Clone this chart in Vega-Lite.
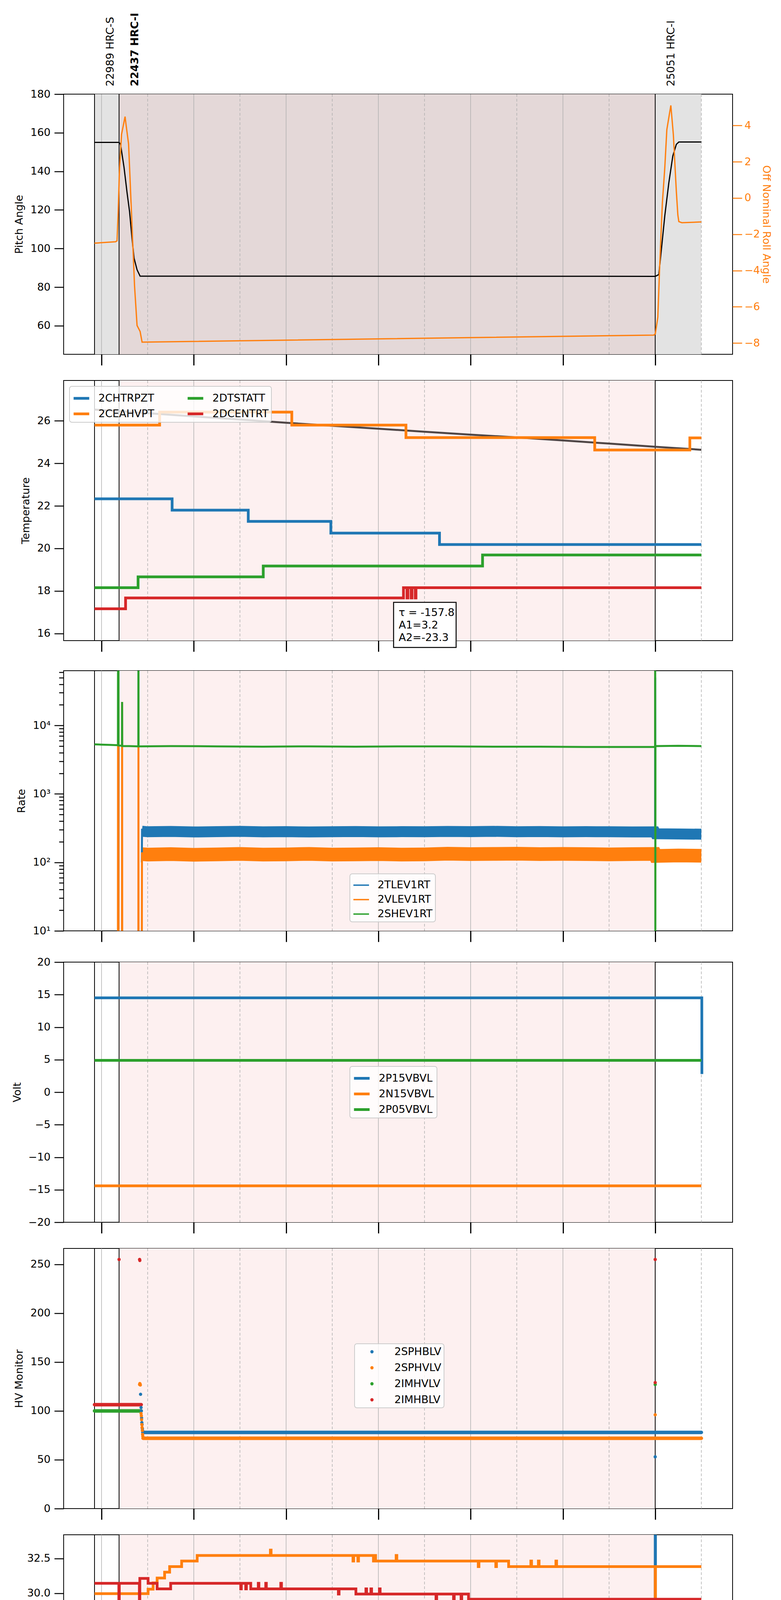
{
  "$schema": "https://vega.github.io/schema/vega-lite/v6.json",
  "background": "white",
  "padding": {"left": 25, "top": 31, "right": 0, "bottom": 0},
  "config": {
    "font": "DejaVu Sans",
    "view": {"stroke": "black", "strokeWidth": 2},
    "axis": {
      "domain": false, "grid": false,
      "labelFont": "DejaVu Sans", "labelFontSize": 27, "labelColor": "black",
      "titleFont": "DejaVu Sans", "titleFontSize": 27, "titleFontWeight": "normal", "titleColor": "black",
      "tickColor": "black", "tickWidth": 2.5, "tickSize": 24, "labelPadding": 10, "titlePadding": 14
    },
    "legend": {
      "orient": "none", "labelFont": "DejaVu Sans", "labelFontSize": 27, "labelColor": "black",
      "padding": 7, "fillColor": "rgba(255,255,255,0.8)", "strokeColor": "#cccccc", "strokeWidth": 2,
      "cornerRadius": 6, "rowPadding": 2, "labelOffset": 20, "symbolSize": 1600, "symbolStrokeWidth": 7
    }
  },
  "datasets": {
    "grid": [{"t":8},{"t":9},{"t":10},{"t":11},{"t":12},{"t":13},{"t":14},{"t":15},{"t":16},{"t":17},{"t":18},{"t":19},{"t":20},{"t":21}],
    "obs": [{"t":7.848},{"t":8.38},{"t":20.0}],
    "obsid": [{"t":7.848,"id":"22989 HRC-S","cur":false},{"t":8.38,"id":"22437 HRC-I","cur":true},{"t":20.0,"id":"25051 HRC-I","cur":false}],
    "shade": [{"t0":7.848,"t1":8.38,"k":"out"},{"t0":8.38,"t1":20.0,"k":"in"},{"t0":20.0,"t1":21.0,"k":"out"}],
    "pitch": [
      {"t":7.848,"v":155},{"t":8.38,"v":155},{"t":8.412,"v":154},{"t":8.488,"v":142},{"t":8.553,"v":129},{"t":8.608,"v":119},
      {"t":8.662,"v":105},{"t":8.705,"v":95},{"t":8.77,"v":89},{"t":8.836,"v":85.7},{"t":20.002,"v":85.6},{"t":20.078,"v":86.5},
      {"t":20.132,"v":99},{"t":20.208,"v":117},{"t":20.295,"v":134},{"t":20.382,"v":148},{"t":20.458,"v":154},{"t":20.512,"v":155.2},{"t":21.0,"v":155.2}
    ],
    "roll": [
      {"t":7.848,"v":-2.49},{"t":8.304,"v":-2.41},{"t":8.336,"v":-2.36},{"t":8.358,"v":-0.94},{"t":8.391,"v":1.68},{"t":8.434,"v":3.51},
      {"t":8.51,"v":4.49},{"t":8.532,"v":4.03},{"t":8.586,"v":2.99},{"t":8.608,"v":1.68},{"t":8.662,"v":-1.6},{"t":8.716,"v":-4.87},
      {"t":8.77,"v":-7.03},{"t":8.836,"v":-7.36},{"t":8.879,"v":-7.95},{"t":19.97,"v":-7.56},{"t":20.002,"v":-7.49},{"t":20.057,"v":-6.57},
      {"t":20.1,"v":-3.56},{"t":20.155,"v":-0.29},{"t":20.208,"v":1.68},{"t":20.252,"v":3.77},{"t":20.339,"v":5.11},{"t":20.393,"v":3.51},
      {"t":20.458,"v":0.37},{"t":20.491,"v":-0.94},{"t":20.512,"v":-1.3},{"t":20.577,"v":-1.36},{"t":21.0,"v":-1.32}
    ],
    "model": [
      {"t":7.848,"v":26.53},{"t":9,"v":26.36},{"t":10,"v":26.21},{"t":11,"v":26.06},{"t":12,"v":25.91},{"t":13,"v":25.77},{"t":14,"v":25.63},
      {"t":15,"v":25.49},{"t":16,"v":25.35},{"t":17,"v":25.22},{"t":18,"v":25.08},{"t":19,"v":24.93},{"t":20,"v":24.78},{"t":21,"v":24.64}
    ],
    "temp": [
      {"s":"2CHTRPZT","t":7.848,"v":22.33},{"s":"2CHTRPZT","t":9.53,"v":21.8},{"s":"2CHTRPZT","t":11.18,"v":21.27},{"s":"2CHTRPZT","t":12.97,"v":20.72},{"s":"2CHTRPZT","t":15.325,"v":20.18},{"s":"2CHTRPZT","t":21.0,"v":20.18},
      {"s":"2CEAHVPT","t":7.848,"v":25.8},{"s":"2CEAHVPT","t":9.259,"v":26.41},{"s":"2CEAHVPT","t":12.124,"v":25.8},{"s":"2CEAHVPT","t":14.598,"v":25.21},{"s":"2CEAHVPT","t":18.689,"v":24.63},{"s":"2CEAHVPT","t":20.751,"v":25.2},{"s":"2CEAHVPT","t":21.0,"v":25.2},
      {"s":"2DTSTATT","t":7.848,"v":18.15},{"s":"2DTSTATT","t":8.792,"v":18.66},{"s":"2DTSTATT","t":11.505,"v":19.17},{"s":"2DTSTATT","t":16.258,"v":19.69},{"s":"2DTSTATT","t":21.0,"v":19.69},
      {"s":"2DCENTRT","t":7.848,"v":17.16},{"s":"2DCENTRT","t":8.521,"v":17.67},{"s":"2DCENTRT","t":14.544,"v":18.15},{"s":"2DCENTRT","t":14.62,"v":17.67},{"s":"2DCENTRT","t":14.64,"v":18.15},{"s":"2DCENTRT","t":14.71,"v":17.67},{"s":"2DCENTRT","t":14.73,"v":18.15},{"s":"2DCENTRT","t":14.8,"v":17.67},{"s":"2DCENTRT","t":14.815,"v":18.15},{"s":"2DCENTRT","t":21.0,"v":18.15}
    ],
    "note": [{"t0":14.33,"t1":15.685,"v0":17.46,"v1":15.34,"tt":14.44,"vt":17.21,"label":"τ = -157.8\nA1=3.2\nA2=-23.3"}],
    "rateband": [
      {"s":"2TLEV1RT","t":8.876,"v":285},{"s":"2TLEV1RT","t":9.0,"v":280},{"s":"2TLEV1RT","t":9.5,"v":283},{"s":"2TLEV1RT","t":10.0,"v":278},{"s":"2TLEV1RT","t":10.5,"v":281},
      {"s":"2TLEV1RT","t":11.0,"v":284},{"s":"2TLEV1RT","t":11.5,"v":279},{"s":"2TLEV1RT","t":12.0,"v":281},{"s":"2TLEV1RT","t":12.5,"v":278},{"s":"2TLEV1RT","t":13.0,"v":280},
      {"s":"2TLEV1RT","t":13.5,"v":282},{"s":"2TLEV1RT","t":14.0,"v":279},{"s":"2TLEV1RT","t":14.5,"v":281},{"s":"2TLEV1RT","t":15.0,"v":280},{"s":"2TLEV1RT","t":15.5,"v":283},
      {"s":"2TLEV1RT","t":16.0,"v":281},{"s":"2TLEV1RT","t":16.5,"v":284},{"s":"2TLEV1RT","t":17.0,"v":280},{"s":"2TLEV1RT","t":17.5,"v":282},{"s":"2TLEV1RT","t":18.0,"v":279},
      {"s":"2TLEV1RT","t":18.5,"v":281},{"s":"2TLEV1RT","t":19.0,"v":280},{"s":"2TLEV1RT","t":19.5,"v":278},{"s":"2TLEV1RT","t":19.99,"v":279},{"s":"2TLEV1RT","t":20.01,"v":262},
      {"s":"2TLEV1RT","t":20.5,"v":260},{"s":"2TLEV1RT","t":21.0,"v":258},
      {"s":"2VLEV1RT","t":8.876,"v":132},{"s":"2VLEV1RT","t":9.0,"v":130},{"s":"2VLEV1RT","t":9.5,"v":132},{"s":"2VLEV1RT","t":10.0,"v":129},{"s":"2VLEV1RT","t":10.5,"v":131},
      {"s":"2VLEV1RT","t":11.0,"v":133},{"s":"2VLEV1RT","t":11.5,"v":130},{"s":"2VLEV1RT","t":12.0,"v":131},{"s":"2VLEV1RT","t":12.5,"v":133},{"s":"2VLEV1RT","t":13.0,"v":130},
      {"s":"2VLEV1RT","t":13.5,"v":131},{"s":"2VLEV1RT","t":14.0,"v":132},{"s":"2VLEV1RT","t":14.5,"v":130},{"s":"2VLEV1RT","t":15.0,"v":131},{"s":"2VLEV1RT","t":15.5,"v":134},
      {"s":"2VLEV1RT","t":16.0,"v":132},{"s":"2VLEV1RT","t":16.5,"v":133},{"s":"2VLEV1RT","t":17.0,"v":134},{"s":"2VLEV1RT","t":17.5,"v":132},{"s":"2VLEV1RT","t":18.0,"v":133},
      {"s":"2VLEV1RT","t":18.5,"v":132},{"s":"2VLEV1RT","t":19.0,"v":131},{"s":"2VLEV1RT","t":19.5,"v":132},{"s":"2VLEV1RT","t":19.99,"v":133},{"s":"2VLEV1RT","t":20.01,"v":124},
      {"s":"2VLEV1RT","t":20.5,"v":126},{"s":"2VLEV1RT","t":21.0,"v":125}
    ],
    "ratethin": [
      {"s":"2TLEV1RT","t":8.873,"v":100},{"s":"2TLEV1RT","t":8.878,"v":300},{"s":"2TLEV1RT","t":19.997,"v":290},{"s":"2TLEV1RT","t":20.0,"v":50000},{"s":"2TLEV1RT","t":20.003,"v":270},
      {"s":"2VLEV1RT","t":7.848,"v":1},{"s":"2VLEV1RT","t":8.354,"v":1},{"s":"2VLEV1RT","t":8.357,"v":5100},{"s":"2VLEV1RT","t":8.362,"v":1},{"s":"2VLEV1RT","t":8.364,"v":5100},
      {"s":"2VLEV1RT","t":8.368,"v":1},{"s":"2VLEV1RT","t":8.443,"v":1},{"s":"2VLEV1RT","t":8.446,"v":22000},{"s":"2VLEV1RT","t":8.449,"v":1},{"s":"2VLEV1RT","t":8.797,"v":1},
      {"s":"2VLEV1RT","t":8.8,"v":5000},{"s":"2VLEV1RT","t":8.803,"v":1},{"s":"2VLEV1RT","t":8.872,"v":1},{"s":"2VLEV1RT","t":8.877,"v":140},
      {"s":"2SHEV1RT","t":7.848,"v":5300},{"s":"2SHEV1RT","t":8.0,"v":5250},{"s":"2SHEV1RT","t":8.2,"v":5200},{"s":"2SHEV1RT","t":8.355,"v":5150},{"s":"2SHEV1RT","t":8.358,"v":1000000},
      {"s":"2SHEV1RT","t":8.366,"v":1000000},{"s":"2SHEV1RT","t":8.37,"v":5100},{"s":"2SHEV1RT","t":8.443,"v":5050},{"s":"2SHEV1RT","t":8.446,"v":22000},{"s":"2SHEV1RT","t":8.449,"v":5000},
      {"s":"2SHEV1RT","t":8.6,"v":5000},{"s":"2SHEV1RT","t":8.797,"v":4950},{"s":"2SHEV1RT","t":8.8,"v":1000000},{"s":"2SHEV1RT","t":8.803,"v":4950},{"s":"2SHEV1RT","t":9.5,"v":5000},
      {"s":"2SHEV1RT","t":10.5,"v":4950},{"s":"2SHEV1RT","t":11.5,"v":4900},{"s":"2SHEV1RT","t":12.5,"v":4950},{"s":"2SHEV1RT","t":13.5,"v":4900},{"s":"2SHEV1RT","t":14.5,"v":4950},
      {"s":"2SHEV1RT","t":15.5,"v":4950},{"s":"2SHEV1RT","t":16.5,"v":4900},{"s":"2SHEV1RT","t":17.5,"v":4900},{"s":"2SHEV1RT","t":18.5,"v":4850},{"s":"2SHEV1RT","t":19.5,"v":4850},
      {"s":"2SHEV1RT","t":19.997,"v":4850},{"s":"2SHEV1RT","t":20.0,"v":1000000},{"s":"2SHEV1RT","t":20.003,"v":1},{"s":"2SHEV1RT","t":20.006,"v":5000},{"s":"2SHEV1RT","t":20.5,"v":5050},
      {"s":"2SHEV1RT","t":21.0,"v":5000}
    ],
    "volt": [
      {"s":"2P15VBVL","t":7.848,"v":14.5},{"s":"2P15VBVL","t":21.01,"v":14.5},{"s":"2P15VBVL","t":21.012,"v":2.8},
      {"s":"2N15VBVL","t":7.848,"v":-14.4},{"s":"2N15VBVL","t":21.0,"v":-14.4},
      {"s":"2P05VBVL","t":7.848,"v":4.9},{"s":"2P05VBVL","t":21.0,"v":4.9}
    ],
    "hvpts": [
      {"s":"2SPHBLV","t":8.846,"v":117},{"s":"2SPHBLV","t":8.857,"v":103.4},{"s":"2SPHBLV","t":8.862,"v":100},{"s":"2SPHBLV","t":8.868,"v":92.8},{"s":"2SPHBLV","t":8.874,"v":88},
      {"s":"2SPHBLV","t":8.879,"v":86},{"s":"2SPHBLV","t":8.885,"v":82},{"s":"2SPHBLV","t":8.89,"v":80},{"s":"2SPHBLV","t":20.0,"v":53},
      {"s":"2SPHVLV","t":8.825,"v":127},{"s":"2SPHVLV","t":8.83,"v":128},{"s":"2SPHVLV","t":8.835,"v":127.5},{"s":"2SPHVLV","t":8.841,"v":126.5},{"s":"2SPHVLV","t":8.857,"v":97.3},
      {"s":"2SPHVLV","t":8.863,"v":95},{"s":"2SPHVLV","t":8.868,"v":91},{"s":"2SPHVLV","t":8.874,"v":86},{"s":"2SPHVLV","t":8.879,"v":83},{"s":"2SPHVLV","t":8.885,"v":80},
      {"s":"2SPHVLV","t":8.89,"v":76},{"s":"2SPHVLV","t":8.895,"v":74},{"s":"2SPHVLV","t":20.0,"v":96},
      {"s":"2IMHVLV","t":20.0,"v":127},
      {"s":"2IMHBLV","t":8.38,"v":255},{"s":"2IMHBLV","t":8.825,"v":255},{"s":"2IMHBLV","t":8.83,"v":254},{"s":"2IMHBLV","t":20.0,"v":255},{"s":"2IMHBLV","t":20.0,"v":129}
    ],
    "hvline": [
      {"s":"2SPHBLV","t":8.895,"v":78},{"s":"2SPHBLV","t":21.0,"v":78},
      {"s":"2SPHVLV","t":8.9,"v":72},{"s":"2SPHVLV","t":21.0,"v":72},
      {"s":"2IMHVLV","t":7.848,"v":100},{"s":"2IMHVLV","t":8.86,"v":100},
      {"s":"2IMHBLV","t":7.848,"v":106.4},{"s":"2IMHBLV","t":8.86,"v":106.4}
    ],
    "dtemp": [
      {"s":"2SPINATM","t":7.848,"v":16.35},{"s":"2SPINATM","t":9.226,"v":16.99},{"s":"2SPINATM","t":9.25,"v":16.35},{"s":"2SPINATM","t":9.27,"v":16.99},{"s":"2SPINATM","t":9.33,"v":16.35},
      {"s":"2SPINATM","t":9.35,"v":16.99},{"s":"2SPINATM","t":12.265,"v":17.63},{"s":"2SPINATM","t":19.29,"v":18.27},{"s":"2SPINATM","t":19.31,"v":17.63},{"s":"2SPINATM","t":19.53,"v":18.27},
      {"s":"2SPINATM","t":19.55,"v":17.63},{"s":"2SPINATM","t":19.59,"v":18.27},{"s":"2SPINATM","t":19.62,"v":17.63},{"s":"2SPINATM","t":19.65,"v":18.27},{"s":"2SPINATM","t":19.7,"v":17.63},
      {"s":"2SPINATM","t":19.72,"v":18.27},{"s":"2SPINATM","t":19.78,"v":17.63},{"s":"2SPINATM","t":19.8,"v":18.27},{"s":"2SPINATM","t":19.84,"v":17.63},{"s":"2SPINATM","t":19.86,"v":18.27},
      {"s":"2SPINATM","t":20.0,"v":40},{"s":"2SPINATM","t":20.006,"v":18.27},{"s":"2SPINATM","t":21.0,"v":18.27},
      {"s":"2SPHVATM","t":7.848,"v":29.97},{"s":"2SPHVATM","t":9.009,"v":30.29},{"s":"2SPHVATM","t":9.118,"v":30.74},{"s":"2SPHVATM","t":9.205,"v":31.09},{"s":"2SPHVATM","t":9.367,"v":31.51},
      {"s":"2SPHVATM","t":9.476,"v":31.91},{"s":"2SPHVATM","t":9.736,"v":32.31},{"s":"2SPHVATM","t":10.073,"v":32.71},{"s":"2SPHVATM","t":11.66,"v":33.1},{"s":"2SPHVATM","t":11.675,"v":32.71},
      {"s":"2SPHVATM","t":13.45,"v":32.31},{"s":"2SPHVATM","t":13.465,"v":32.71},{"s":"2SPHVATM","t":13.555,"v":32.31},{"s":"2SPHVATM","t":13.57,"v":32.71},{"s":"2SPHVATM","t":13.893,"v":32.31},
      {"s":"2SPHVATM","t":13.92,"v":32.71},{"s":"2SPHVATM","t":13.94,"v":32.31},{"s":"2SPHVATM","t":14.385,"v":32.71},{"s":"2SPHVATM","t":14.4,"v":32.31},{"s":"2SPHVATM","t":16.165,"v":31.91},
      {"s":"2SPHVATM","t":16.18,"v":32.31},{"s":"2SPHVATM","t":16.545,"v":31.91},{"s":"2SPHVATM","t":16.56,"v":32.31},{"s":"2SPHVATM","t":16.823,"v":31.91},{"s":"2SPHVATM","t":17.305,"v":32.31},
      {"s":"2SPHVATM","t":17.32,"v":31.91},{"s":"2SPHVATM","t":17.468,"v":32.31},{"s":"2SPHVATM","t":17.483,"v":31.91},{"s":"2SPHVATM","t":17.848,"v":32.31},{"s":"2SPHVATM","t":17.863,"v":31.91},
      {"s":"2SPHVATM","t":20.0,"v":15},{"s":"2SPHVATM","t":20.006,"v":31.91},{"s":"2SPHVATM","t":21.0,"v":31.91},
      {"s":"2IMINATM","t":7.848,"v":18.27},{"s":"2IMINATM","t":11.418,"v":18.93},{"s":"2IMINATM","t":11.44,"v":18.27},{"s":"2IMINATM","t":11.46,"v":18.93},{"s":"2IMINATM","t":11.91,"v":18.27},
      {"s":"2IMINATM","t":11.925,"v":18.93},{"s":"2IMINATM","t":18.12,"v":19.63},{"s":"2IMINATM","t":18.135,"v":18.93},{"s":"2IMINATM","t":18.971,"v":19.63},{"s":"2IMINATM","t":19.0,"v":18.93},
      {"s":"2IMINATM","t":19.03,"v":19.63},{"s":"2IMINATM","t":19.1,"v":18.93},{"s":"2IMINATM","t":19.12,"v":19.63},{"s":"2IMINATM","t":19.19,"v":18.93},{"s":"2IMINATM","t":19.21,"v":19.63},
      {"s":"2IMINATM","t":21.0,"v":19.63},
      {"s":"2IMHVATM","t":7.848,"v":30.71},{"s":"2IMHVATM","t":8.375,"v":10},{"s":"2IMHVATM","t":8.385,"v":30.71},{"s":"2IMHVATM","t":8.82,"v":10},{"s":"2IMHVATM","t":8.83,"v":31.06},
      {"s":"2IMHVATM","t":9.009,"v":30.71},{"s":"2IMHVATM","t":9.205,"v":30.31},{"s":"2IMHVATM","t":9.498,"v":30.71},{"s":"2IMHVATM","t":11.017,"v":30.31},{"s":"2IMHVATM","t":11.03,"v":30.71},
      {"s":"2IMHVATM","t":11.125,"v":30.31},{"s":"2IMHVATM","t":11.14,"v":30.71},{"s":"2IMHVATM","t":11.234,"v":30.31},{"s":"2IMHVATM","t":11.397,"v":30.71},{"s":"2IMHVATM","t":11.41,"v":30.31},
      {"s":"2IMHVATM","t":11.559,"v":30.71},{"s":"2IMHVATM","t":11.572,"v":30.31},{"s":"2IMHVATM","t":11.885,"v":30.71},{"s":"2IMHVATM","t":11.9,"v":30.31},{"s":"2IMHVATM","t":13.133,"v":29.94},
      {"s":"2IMHVATM","t":13.148,"v":30.31},{"s":"2IMHVATM","t":13.513,"v":29.94},{"s":"2IMHVATM","t":13.73,"v":30.31},{"s":"2IMHVATM","t":13.745,"v":29.94},{"s":"2IMHVATM","t":13.838,"v":30.31},
      {"s":"2IMHVATM","t":13.853,"v":29.94},{"s":"2IMHVATM","t":14.023,"v":30.31},{"s":"2IMHVATM","t":14.038,"v":29.94},{"s":"2IMHVATM","t":15.249,"v":29.57},{"s":"2IMHVATM","t":15.264,"v":29.94},
      {"s":"2IMHVATM","t":15.629,"v":29.57},{"s":"2IMHVATM","t":15.644,"v":29.94},{"s":"2IMHVATM","t":15.792,"v":29.57},{"s":"2IMHVATM","t":15.807,"v":29.94},{"s":"2IMHVATM","t":15.954,"v":29.57},
      {"s":"2IMHVATM","t":18.667,"v":29.2},{"s":"2IMHVATM","t":18.682,"v":29.57},{"s":"2IMHVATM","t":19.123,"v":29.2},{"s":"2IMHVATM","t":19.138,"v":29.57},{"s":"2IMHVATM","t":19.557,"v":29.2},
      {"s":"2IMHVATM","t":19.572,"v":29.57},{"s":"2IMHVATM","t":19.615,"v":29.2},{"s":"2IMHVATM","t":19.63,"v":29.57},{"s":"2IMHVATM","t":20.0,"v":10},{"s":"2IMHVATM","t":20.006,"v":29.57},
      {"s":"2IMHVATM","t":21.0,"v":29.57}
    ],
    "fea": [
      {"s":"2FHTRMZT","t":7.848,"v":21.27},{"s":"2FHTRMZT","t":9.063,"v":21.81},{"s":"2FHTRMZT","t":11.614,"v":22.36},{"s":"2FHTRMZT","t":15.976,"v":22.91},{"s":"2FHTRMZT","t":21.0,"v":22.91},
      {"s":"2FRADPYT","t":7.848,"v":17.16},{"s":"2FRADPYT","t":8.868,"v":17.66},{"s":"2FRADPYT","t":10.311,"v":18.16},{"s":"2FRADPYT","t":15.086,"v":18.65},{"s":"2FRADPYT","t":20.241,"v":18.16},{"s":"2FRADPYT","t":21.0,"v":18.16},
      {"s":"2FEPRATM","t":7.848,"v":23.14},{"s":"2FEPRATM","t":8.375,"v":21.6},{"s":"2FEPRATM","t":8.385,"v":23.14},{"s":"2FEPRATM","t":8.82,"v":21.7},{"s":"2FEPRATM","t":8.83,"v":23.14},
      {"s":"2FEPRATM","t":9.44,"v":23.87},{"s":"2FEPRATM","t":9.46,"v":23.14},{"s":"2FEPRATM","t":9.5,"v":23.87},{"s":"2FEPRATM","t":9.55,"v":23.14},{"s":"2FEPRATM","t":9.6,"v":23.87},
      {"s":"2FEPRATM","t":14.27,"v":24.62},{"s":"2FEPRATM","t":14.3,"v":23.87},{"s":"2FEPRATM","t":14.35,"v":24.62},{"s":"2FEPRATM","t":14.4,"v":23.87},{"s":"2FEPRATM","t":14.45,"v":24.62},
      {"s":"2FEPRATM","t":14.47,"v":23.87},{"s":"2FEPRATM","t":14.49,"v":24.62},{"s":"2FEPRATM","t":21.0,"v":24.62},
      {"s":"2FE00ATM","t":7.848,"v":21.4},{"s":"2FE00ATM","t":8.375,"v":10},{"s":"2FE00ATM","t":8.385,"v":21.4},{"s":"2FE00ATM","t":8.82,"v":10},{"s":"2FE00ATM","t":8.83,"v":21.72},
      {"s":"2FE00ATM","t":9.519,"v":22.05},{"s":"2FE00ATM","t":9.532,"v":21.72},{"s":"2FE00ATM","t":9.877,"v":22.04},{"s":"2FE00ATM","t":9.9,"v":21.72},{"s":"2FE00ATM","t":9.92,"v":22.04},
      {"s":"2FE00ATM","t":10.138,"v":22.66},{"s":"2FE00ATM","t":10.15,"v":22.04},{"s":"2FE00ATM","t":10.18,"v":22.66},{"s":"2FE00ATM","t":10.192,"v":22.04},{"s":"2FE00ATM","t":10.29,"v":23.33},
      {"s":"2FE00ATM","t":10.302,"v":22.04},{"s":"2FE00ATM","t":10.398,"v":22.36},{"s":"2FE00ATM","t":10.41,"v":22.04},{"s":"2FE00ATM","t":10.442,"v":21.72},{"s":"2FE00ATM","t":10.455,"v":22.04},
      {"s":"2FE00ATM","t":10.822,"v":22.66},{"s":"2FE00ATM","t":10.834,"v":22.04},{"s":"2FE00ATM","t":10.94,"v":22.66},{"s":"2FE00ATM","t":10.952,"v":22.04},{"s":"2FE00ATM","t":10.995,"v":23.33},
      {"s":"2FE00ATM","t":11.007,"v":22.04},{"s":"2FE00ATM","t":11.668,"v":21.72},{"s":"2FE00ATM","t":11.68,"v":22.04},{"s":"2FE00ATM","t":11.831,"v":22.32},{"s":"2FE00ATM","t":11.86,"v":22.04},
      {"s":"2FE00ATM","t":11.88,"v":22.32},{"s":"2FE00ATM","t":12.134,"v":23.0},{"s":"2FE00ATM","t":12.146,"v":22.32},{"s":"2FE00ATM","t":12.243,"v":21.6},{"s":"2FE00ATM","t":12.255,"v":22.32},
      {"s":"2FE00ATM","t":12.341,"v":23.0},{"s":"2FE00ATM","t":12.353,"v":22.32},{"s":"2FE00ATM","t":12.41,"v":21.9},{"s":"2FE00ATM","t":12.422,"v":22.32},{"s":"2FE00ATM","t":12.699,"v":22.66},
      {"s":"2FE00ATM","t":12.711,"v":22.32},{"s":"2FE00ATM","t":13.0,"v":21.9},{"s":"2FE00ATM","t":13.012,"v":22.32},{"s":"2FE00ATM","t":13.079,"v":23.0},{"s":"2FE00ATM","t":13.091,"v":22.32},
      {"s":"2FE00ATM","t":13.187,"v":21.6},{"s":"2FE00ATM","t":13.199,"v":22.32},{"s":"2FE00ATM","t":13.328,"v":21.35},{"s":"2FE00ATM","t":13.34,"v":22.32},{"s":"2FE00ATM","t":13.589,"v":22.66},
      {"s":"2FE00ATM","t":13.601,"v":22.32},{"s":"2FE00ATM","t":13.697,"v":21.9},{"s":"2FE00ATM","t":13.709,"v":22.32},{"s":"2FE00ATM","t":13.73,"v":21.6},{"s":"2FE00ATM","t":13.742,"v":22.32},
      {"s":"2FE00ATM","t":13.817,"v":23.0},{"s":"2FE00ATM","t":13.829,"v":22.32},{"s":"2FE00ATM","t":14.197,"v":21.9},{"s":"2FE00ATM","t":14.209,"v":22.32},{"s":"2FE00ATM","t":14.272,"v":23.0},
      {"s":"2FE00ATM","t":14.284,"v":22.32},{"s":"2FE00ATM","t":14.327,"v":21.35},{"s":"2FE00ATM","t":14.339,"v":22.32},{"s":"2FE00ATM","t":14.924,"v":21.6},{"s":"2FE00ATM","t":14.936,"v":22.32},
      {"s":"2FE00ATM","t":14.956,"v":22.66},{"s":"2FE00ATM","t":14.968,"v":22.32},{"s":"2FE00ATM","t":15.195,"v":22.0},{"s":"2FE00ATM","t":15.207,"v":22.32},{"s":"2FE00ATM","t":15.303,"v":22.66},
      {"s":"2FE00ATM","t":15.32,"v":22.32},{"s":"2FE00ATM","t":15.34,"v":22.66},{"s":"2FE00ATM","t":15.661,"v":22.0},{"s":"2FE00ATM","t":15.673,"v":22.66},{"s":"2FE00ATM","t":15.9,"v":23.6},
      {"s":"2FE00ATM","t":15.912,"v":22.66},{"s":"2FE00ATM","t":15.954,"v":23.6},{"s":"2FE00ATM","t":15.966,"v":22.66},{"s":"2FE00ATM","t":16.15,"v":22.3},{"s":"2FE00ATM","t":16.162,"v":22.66},
      {"s":"2FE00ATM","t":16.465,"v":23.6},{"s":"2FE00ATM","t":16.477,"v":22.66},{"s":"2FE00ATM","t":16.497,"v":22.0},{"s":"2FE00ATM","t":16.509,"v":22.66},{"s":"2FE00ATM","t":16.606,"v":22.98},
      {"s":"2FE00ATM","t":16.618,"v":22.66},{"s":"2FE00ATM","t":16.931,"v":22.3},{"s":"2FE00ATM","t":16.943,"v":22.66},{"s":"2FE00ATM","t":16.985,"v":23.6},{"s":"2FE00ATM","t":16.997,"v":22.66},
      {"s":"2FE00ATM","t":17.235,"v":23.6},{"s":"2FE00ATM","t":17.247,"v":22.66},{"s":"2FE00ATM","t":17.398,"v":22.0},{"s":"2FE00ATM","t":17.41,"v":22.66},{"s":"2FE00ATM","t":17.69,"v":22.3},
      {"s":"2FE00ATM","t":17.702,"v":22.66},{"s":"2FE00ATM","t":17.745,"v":23.6},{"s":"2FE00ATM","t":17.757,"v":22.66},{"s":"2FE00ATM","t":17.93,"v":22.3},{"s":"2FE00ATM","t":17.942,"v":22.66},
      {"s":"2FE00ATM","t":18.016,"v":23.3},{"s":"2FE00ATM","t":18.028,"v":22.66},{"s":"2FE00ATM","t":18.049,"v":23.6},{"s":"2FE00ATM","t":18.061,"v":22.66},{"s":"2FE00ATM","t":18.08,"v":22.0},
      {"s":"2FE00ATM","t":18.092,"v":22.66},{"s":"2FE00ATM","t":18.537,"v":22.98},{"s":"2FE00ATM","t":18.549,"v":22.66},{"s":"2FE00ATM","t":18.667,"v":22.98},{"s":"2FE00ATM","t":18.679,"v":22.66},
      {"s":"2FE00ATM","t":18.776,"v":22.98},{"s":"2FE00ATM","t":18.788,"v":22.66},{"s":"2FE00ATM","t":18.939,"v":22.98},{"s":"2FE00ATM","t":18.96,"v":22.66},{"s":"2FE00ATM","t":18.98,"v":22.98},
      {"s":"2FE00ATM","t":19.188,"v":23.33},{"s":"2FE00ATM","t":19.2,"v":22.98},{"s":"2FE00ATM","t":19.3,"v":22.66},{"s":"2FE00ATM","t":19.312,"v":22.98},{"s":"2FE00ATM","t":19.373,"v":21.4},
      {"s":"2FE00ATM","t":19.385,"v":22.98},{"s":"2FE00ATM","t":19.514,"v":22.66},{"s":"2FE00ATM","t":19.526,"v":22.98},{"s":"2FE00ATM","t":19.622,"v":21.7},{"s":"2FE00ATM","t":19.634,"v":22.98},
      {"s":"2FE00ATM","t":19.97,"v":22.66},{"s":"2FE00ATM","t":19.982,"v":22.98},{"s":"2FE00ATM","t":19.998,"v":30},{"s":"2FE00ATM","t":20.0,"v":10},{"s":"2FE00ATM","t":20.006,"v":22.98},
      {"s":"2FE00ATM","t":20.295,"v":22.62},{"s":"2FE00ATM","t":21.0,"v":22.62}
    ]
  },
  "vconcat": [
    {
      "width": 1713, "height": 666,
      "layer": [
        {
          "layer": [
            {"data": {"name": "shade"}, "transform": [{"filter": "datum.k == 'out'"}], "mark": {"type": "rect", "color": "#e3e3e3"},
             "encoding": {"x": {"field": "t0", "type": "quantitative", "scale": {"domain": [7.179, 21.677], "nice": false, "zero": false},
               "axis": {"values": [8,9,10,11,12,13,14,15,16,17,18,19,20,21], "labels": false, "title": null, "tickWidth": 3,
                        "tickSize": {"condition": {"test": "datum.value % 2 == 1", "value": 0}, "value": 28}}},
               "x2": {"field": "t1"}}},
            {"data": {"name": "shade"}, "transform": [{"filter": "datum.k == 'in'"}], "mark": {"type": "rect", "color": "#e4d8d8"},
             "encoding": {"x": {"field": "t0", "type": "quantitative"}, "x2": {"field": "t1"}}},
            {"data": {"name": "grid"}, "transform": [{"filter": "datum.t % 2 == 0"}], "mark": {"type": "rule", "color": "#b0b0b0", "strokeWidth": 1.5},
             "encoding": {"x": {"field": "t", "type": "quantitative"}}},
            {"data": {"name": "grid"}, "transform": [{"filter": "datum.t % 2 == 1"}], "mark": {"type": "rule", "color": "#b0b0b0", "strokeWidth": 1.5, "strokeDash": [7, 5]},
             "encoding": {"x": {"field": "t", "type": "quantitative"}}},
            {"data": {"name": "obs"}, "mark": {"type": "rule", "color": "black", "strokeWidth": 2},
             "encoding": {"x": {"field": "t", "type": "quantitative"}}},
            {"data": {"name": "pitch"}, "mark": {"type": "line", "color": "black", "strokeWidth": 3, "clip": true},
             "encoding": {"x": {"field": "t", "type": "quantitative"},
               "y": {"field": "v", "type": "quantitative", "scale": {"domain": [45.2, 180], "nice": false, "zero": false},
                     "axis": {"values": [60,80,100,120,140,160,180], "title": "Pitch Angle"}}}},
            {"data": {"name": "obsid"}, "transform": [{"filter": "!datum.cur"}],
             "mark": {"type": "text", "angle": 270, "align": "left", "baseline": "middle", "dx": 20, "dy": 41, "fontSize": 27},
             "encoding": {"x": {"field": "t", "type": "quantitative"}, "y": {"datum": 180, "type": "quantitative"}, "text": {"field": "id"}}},
            {"data": {"name": "obsid"}, "transform": [{"filter": "datum.cur"}],
             "mark": {"type": "text", "angle": 270, "align": "left", "baseline": "middle", "dx": 20, "dy": 41, "fontSize": 27, "fontWeight": "bold"},
             "encoding": {"x": {"field": "t", "type": "quantitative"}, "y": {"datum": 180, "type": "quantitative"}, "text": {"field": "id"}}}
          ]
        },
        {"data": {"name": "roll"}, "mark": {"type": "line", "color": "#ff7f0e", "strokeWidth": 3.3, "clip": true},
         "encoding": {"x": {"field": "t", "type": "quantitative"},
           "y": {"field": "v", "type": "quantitative", "scale": {"domain": [-8.62, 5.73], "nice": false, "zero": false},
                 "axis": {"orient": "right", "values": [-8,-6,-4,-2,0,2,4], "title": "Off Nominal Roll Angle", "labelPadding": 6, "titlePadding": 2,
                          "titleColor": "#ff7f0e", "labelColor": "#ff7f0e", "tickColor": "#ff7f0e"}}}}
      ],
      "resolve": {"scale": {"y": "independent"}}
    },
    {
      "width": 1713, "height": 666,
      "layer": [
        {"data": {"name": "shade"}, "transform": [{"filter": "datum.k == 'in'"}], "mark": {"type": "rect", "color": "#fdf0f0"},
         "encoding": {"x": {"field": "t0", "type": "quantitative", "scale": {"domain": [7.179, 21.677], "nice": false, "zero": false},
           "axis": {"values": [8,9,10,11,12,13,14,15,16,17,18,19,20,21], "labels": false, "title": null, "tickWidth": 3,
                    "tickSize": {"condition": {"test": "datum.value % 2 == 1", "value": 0}, "value": 28}}},
           "x2": {"field": "t1"}}},
        {"data": {"name": "grid"}, "transform": [{"filter": "datum.t % 2 == 0"}], "mark": {"type": "rule", "color": "#b0b0b0", "strokeWidth": 1.5},
         "encoding": {"x": {"field": "t", "type": "quantitative"}}},
        {"data": {"name": "grid"}, "transform": [{"filter": "datum.t % 2 == 1"}], "mark": {"type": "rule", "color": "#b0b0b0", "strokeWidth": 1.5, "strokeDash": [7, 5]},
         "encoding": {"x": {"field": "t", "type": "quantitative"}}},
        {"data": {"name": "obs"}, "mark": {"type": "rule", "color": "black", "strokeWidth": 2},
         "encoding": {"x": {"field": "t", "type": "quantitative"}}},
        {"data": {"name": "model"}, "mark": {"type": "line", "color": "#4f4646", "strokeWidth": 5, "clip": true},
         "encoding": {"x": {"field": "t", "type": "quantitative"},
           "y": {"field": "v", "type": "quantitative", "scale": {"domain": [15.66, 27.9], "nice": false, "zero": false}}}},
        {"data": {"name": "temp"}, "mark": {"type": "line", "interpolate": "step-after", "strokeWidth": 7, "clip": true},
         "encoding": {"x": {"field": "t", "type": "quantitative"},
           "y": {"field": "v", "type": "quantitative", "scale": {"domain": [15.66, 27.9], "nice": false, "zero": false},
                 "axis": {"values": [16,18,20,22,24,26], "title": "Temperature"}},
           "color": {"field": "s", "type": "nominal",
             "scale": {"domain": ["2CHTRPZT","2CEAHVPT","2DTSTATT","2DCENTRT"], "range": ["#1f77b4","#ff7f0e","#2ca02c","#d62728"]},
             "legend": {"title": null, "columns": 2, "columnPadding": 70, "legendX": 15, "legendY": 15}}}},
        {"data": {"name": "note"}, "mark": {"type": "rect", "fill": "white", "stroke": "black", "strokeWidth": 2.5},
         "encoding": {"x": {"field": "t0", "type": "quantitative"}, "x2": {"field": "t1"},
           "y": {"field": "v0", "type": "quantitative"}, "y2": {"field": "v1"}}},
        {"data": {"name": "note"}, "mark": {"type": "text", "align": "left", "baseline": "top", "fontSize": 27, "lineHeight": 32, "lineBreak": "\n"},
         "encoding": {"x": {"field": "tt", "type": "quantitative"}, "y": {"field": "vt", "type": "quantitative"}, "text": {"field": "label"}}}
      ]
    },
    {
      "width": 1713, "height": 666,
      "layer": [
        {"data": {"name": "shade"}, "transform": [{"filter": "datum.k == 'in'"}], "mark": {"type": "rect", "color": "#fdf0f0"},
         "encoding": {"x": {"field": "t0", "type": "quantitative", "scale": {"domain": [7.179, 21.677], "nice": false, "zero": false},
           "axis": {"values": [8,9,10,11,12,13,14,15,16,17,18,19,20,21], "labels": false, "title": null, "tickWidth": 3,
                    "tickSize": {"condition": {"test": "datum.value % 2 == 1", "value": 0}, "value": 28}}},
           "x2": {"field": "t1"}}},
        {"data": {"name": "grid"}, "transform": [{"filter": "datum.t % 2 == 0"}], "mark": {"type": "rule", "color": "#b0b0b0", "strokeWidth": 1.5},
         "encoding": {"x": {"field": "t", "type": "quantitative"}}},
        {"data": {"name": "grid"}, "transform": [{"filter": "datum.t % 2 == 1"}], "mark": {"type": "rule", "color": "#b0b0b0", "strokeWidth": 1.5, "strokeDash": [7, 5]},
         "encoding": {"x": {"field": "t", "type": "quantitative"}}},
        {"data": {"name": "obs"}, "mark": {"type": "rule", "color": "black", "strokeWidth": 2},
         "encoding": {"x": {"field": "t", "type": "quantitative"}}},
        {"data": {"name": "rateband"}, "mark": {"type": "line", "clip": true},
         "encoding": {"x": {"field": "t", "type": "quantitative"},
           "y": {"field": "v", "type": "quantitative", "scale": {"type": "log", "domain": [10, 63000], "nice": false}},
           "stroke": {"field": "s", "type": "nominal", "scale": {"domain": ["2TLEV1RT","2VLEV1RT"], "range": ["#1f77b4","#ff7f0e"]}, "legend": null},
           "strokeWidth": {"field": "s", "type": "nominal", "scale": {"domain": ["2TLEV1RT","2VLEV1RT"], "range": [28, 35]}, "legend": null}}},
        {"data": {"name": "ratethin"}, "mark": {"type": "line", "strokeWidth": 5, "clip": true},
         "encoding": {"x": {"field": "t", "type": "quantitative"},
           "y": {"field": "v", "type": "quantitative", "scale": {"type": "log", "domain": [10, 63000], "nice": false},
                 "axis": {"title": "Rate", "labelOverlap": false,
                          "values": [10,20,30,40,50,60,70,80,90,100,200,300,400,500,600,700,800,900,1000,2000,3000,4000,5000,6000,7000,8000,9000,10000,20000,30000,40000,50000,60000],
                          "labelExpr": "datum.value == 10 ? '10¹' : datum.value == 100 ? '10²' : datum.value == 1000 ? '10³' : datum.value == 10000 ? '10⁴' : ''",
                          "tickSize": {"condition": {"test": "datum.value == 10 || datum.value == 100 || datum.value == 1000 || datum.value == 10000", "value": 24}, "value": 12}}},
           "color": {"field": "s", "type": "nominal",
             "scale": {"domain": ["2TLEV1RT","2VLEV1RT","2SHEV1RT"], "range": ["#1f77b4","#ff7f0e","#2ca02c"]},
             "legend": {"title": null, "symbolStrokeWidth": 3.5, "legendX": 733, "legendY": 520}}}}
      ]
    },
    {
      "width": 1713, "height": 666,
      "layer": [
        {"data": {"name": "shade"}, "transform": [{"filter": "datum.k == 'in'"}], "mark": {"type": "rect", "color": "#fdf0f0"},
         "encoding": {"x": {"field": "t0", "type": "quantitative", "scale": {"domain": [7.179, 21.677], "nice": false, "zero": false},
           "axis": {"values": [8,9,10,11,12,13,14,15,16,17,18,19,20,21], "labels": false, "title": null, "tickWidth": 3,
                    "tickSize": {"condition": {"test": "datum.value % 2 == 1", "value": 0}, "value": 28}}},
           "x2": {"field": "t1"}}},
        {"data": {"name": "grid"}, "transform": [{"filter": "datum.t % 2 == 0"}], "mark": {"type": "rule", "color": "#b0b0b0", "strokeWidth": 1.5},
         "encoding": {"x": {"field": "t", "type": "quantitative"}}},
        {"data": {"name": "grid"}, "transform": [{"filter": "datum.t % 2 == 1"}], "mark": {"type": "rule", "color": "#b0b0b0", "strokeWidth": 1.5, "strokeDash": [7, 5]},
         "encoding": {"x": {"field": "t", "type": "quantitative"}}},
        {"data": {"name": "obs"}, "mark": {"type": "rule", "color": "black", "strokeWidth": 2},
         "encoding": {"x": {"field": "t", "type": "quantitative"}}},
        {"data": {"name": "volt"}, "mark": {"type": "line", "strokeWidth": 7, "clip": true},
         "encoding": {"x": {"field": "t", "type": "quantitative"},
           "y": {"field": "v", "type": "quantitative", "scale": {"domain": [-20, 20], "nice": false, "zero": false},
                 "axis": {"values": [-20,-15,-10,-5,0,5,10,15,20], "title": "Volt"}},
           "color": {"field": "s", "type": "nominal",
             "scale": {"domain": ["2P15VBVL","2N15VBVL","2P05VBVL"], "range": ["#1f77b4","#ff7f0e","#2ca02c"]},
             "legend": {"title": null, "legendX": 733, "legendY": 267}}}}
      ]
    },
    {
      "width": 1713, "height": 666,
      "layer": [
        {"data": {"name": "shade"}, "transform": [{"filter": "datum.k == 'in'"}], "mark": {"type": "rect", "color": "#fdf0f0"},
         "encoding": {"x": {"field": "t0", "type": "quantitative", "scale": {"domain": [7.179, 21.677], "nice": false, "zero": false},
           "axis": {"values": [8,9,10,11,12,13,14,15,16,17,18,19,20,21], "labels": false, "title": null, "tickWidth": 3,
                    "tickSize": {"condition": {"test": "datum.value % 2 == 1", "value": 0}, "value": 28}}},
           "x2": {"field": "t1"}}},
        {"data": {"name": "grid"}, "transform": [{"filter": "datum.t % 2 == 0"}], "mark": {"type": "rule", "color": "#b0b0b0", "strokeWidth": 1.5},
         "encoding": {"x": {"field": "t", "type": "quantitative"}}},
        {"data": {"name": "grid"}, "transform": [{"filter": "datum.t % 2 == 1"}], "mark": {"type": "rule", "color": "#b0b0b0", "strokeWidth": 1.5, "strokeDash": [7, 5]},
         "encoding": {"x": {"field": "t", "type": "quantitative"}}},
        {"data": {"name": "obs"}, "mark": {"type": "rule", "color": "black", "strokeWidth": 2},
         "encoding": {"x": {"field": "t", "type": "quantitative"}}},
        {"data": {"name": "hvline"}, "transform": [{"filter": "datum.s == '2SPHBLV'"}], "mark": {"type": "line", "color": "#1f77b4", "strokeWidth": 9, "strokeCap": "round", "clip": true},
         "encoding": {"x": {"field": "t", "type": "quantitative"}, "y": {"field": "v", "type": "quantitative", "scale": {"domain": [0, 266.3], "nice": false, "zero": false}}}},
        {"data": {"name": "hvline"}, "transform": [{"filter": "datum.s == '2SPHVLV'"}], "mark": {"type": "line", "color": "#ff7f0e", "strokeWidth": 9, "strokeCap": "round", "clip": true},
         "encoding": {"x": {"field": "t", "type": "quantitative"}, "y": {"field": "v", "type": "quantitative"}}},
        {"data": {"name": "hvline"}, "transform": [{"filter": "datum.s == '2IMHVLV'"}], "mark": {"type": "line", "color": "#2ca02c", "strokeWidth": 9, "strokeCap": "round", "clip": true},
         "encoding": {"x": {"field": "t", "type": "quantitative"}, "y": {"field": "v", "type": "quantitative"}}},
        {"data": {"name": "hvline"}, "transform": [{"filter": "datum.s == '2IMHBLV'"}], "mark": {"type": "line", "color": "#d62728", "strokeWidth": 9, "strokeCap": "round", "clip": true},
         "encoding": {"x": {"field": "t", "type": "quantitative"}, "y": {"field": "v", "type": "quantitative"}}},
        {"data": {"name": "hvpts"}, "mark": {"type": "point", "filled": true, "size": 70, "opacity": 1, "clip": true},
         "encoding": {"x": {"field": "t", "type": "quantitative"},
           "y": {"field": "v", "type": "quantitative", "scale": {"domain": [0, 266.3], "nice": false, "zero": false},
                 "axis": {"values": [0,50,100,150,200,250], "title": "HV Monitor"}},
           "color": {"field": "s", "type": "nominal",
             "scale": {"domain": ["2SPHBLV","2SPHVLV","2IMHVLV","2IMHBLV"], "range": ["#1f77b4","#ff7f0e","#2ca02c","#d62728"]},
             "legend": {"title": null, "symbolType": "circle", "symbolSize": 70, "symbolOffset": 24, "labelOffset": 44, "rowPadding": 13, "legendX": 745, "legendY": 244}}}}
      ]
    },
    {
      "width": 1713, "height": 666,
      "layer": [
        {"data": {"name": "shade"}, "transform": [{"filter": "datum.k == 'in'"}], "mark": {"type": "rect", "color": "#fdf0f0"},
         "encoding": {"x": {"field": "t0", "type": "quantitative", "scale": {"domain": [7.179, 21.677], "nice": false, "zero": false},
           "axis": {"values": [8,9,10,11,12,13,14,15,16,17,18,19,20,21], "labels": false, "title": null, "tickWidth": 3,
                    "tickSize": {"condition": {"test": "datum.value % 2 == 1", "value": 0}, "value": 28}}},
           "x2": {"field": "t1"}}},
        {"data": {"name": "grid"}, "transform": [{"filter": "datum.t % 2 == 0"}], "mark": {"type": "rule", "color": "#b0b0b0", "strokeWidth": 1.5},
         "encoding": {"x": {"field": "t", "type": "quantitative"}}},
        {"data": {"name": "grid"}, "transform": [{"filter": "datum.t % 2 == 1"}], "mark": {"type": "rule", "color": "#b0b0b0", "strokeWidth": 1.5, "strokeDash": [7, 5]},
         "encoding": {"x": {"field": "t", "type": "quantitative"}}},
        {"data": {"name": "obs"}, "mark": {"type": "rule", "color": "black", "strokeWidth": 2},
         "encoding": {"x": {"field": "t", "type": "quantitative"}}},
        {"data": {"name": "dtemp"}, "mark": {"type": "line", "interpolate": "step-after", "strokeWidth": 7, "clip": true},
         "encoding": {"x": {"field": "t", "type": "quantitative"},
           "y": {"field": "v", "type": "quantitative", "scale": {"domain": [15.5, 34.2], "nice": false, "zero": false},
                 "axis": {"values": [17.5,20,22.5,25,27.5,30,32.5], "format": ".1f", "title": "Detector Temp"}},
           "color": {"field": "s", "type": "nominal",
             "scale": {"domain": ["2SPINATM","2SPHVATM","2IMINATM","2IMHVATM"], "range": ["#1f77b4","#ff7f0e","#2ca02c","#d62728"]},
             "legend": {"title": null, "legendX": 732, "legendY": 246}}}}
      ]
    },
    {
      "width": 1713, "height": 666,
      "layer": [
        {"data": {"name": "shade"}, "transform": [{"filter": "datum.k == 'in'"}], "mark": {"type": "rect", "color": "#fdf0f0"},
         "encoding": {"x": {"field": "t0", "type": "quantitative", "scale": {"domain": [7.179, 21.677], "nice": false, "zero": false},
           "axis": {"values": [8,9,10,11,12,13,14,15,16,17,18,19,20,21], "title": "2021-05-27 (147)", "titleFontSize": 33, "titlePadding": 4,
                    "labelExpr": "(datum.value < 10 ? '0' : '') + datum.value + 'h'", "labelOverlap": false, "labelFlush": false, "tickWidth": 3,
                    "labelFontSize": {"condition": {"test": "datum.value % 2 == 1", "value": 18}, "value": 27},
                    "labelPadding": {"condition": {"test": "datum.value % 2 == 1", "value": 8}, "value": 11},
                    "tickSize": {"condition": {"test": "datum.value % 2 == 1", "value": 0}, "value": 28}}},
           "x2": {"field": "t1"}}},
        {"data": {"name": "grid"}, "transform": [{"filter": "datum.t % 2 == 0"}], "mark": {"type": "rule", "color": "#b0b0b0", "strokeWidth": 1.5},
         "encoding": {"x": {"field": "t", "type": "quantitative"}}},
        {"data": {"name": "grid"}, "transform": [{"filter": "datum.t % 2 == 1"}], "mark": {"type": "rule", "color": "#b0b0b0", "strokeWidth": 1.5, "strokeDash": [7, 5]},
         "encoding": {"x": {"field": "t", "type": "quantitative"}}},
        {"data": {"name": "obs"}, "mark": {"type": "rule", "color": "black", "strokeWidth": 2},
         "encoding": {"x": {"field": "t", "type": "quantitative"}}},
        {"data": {"name": "fea"}, "mark": {"type": "line", "interpolate": "step-after", "strokeWidth": 7, "clip": true},
         "encoding": {"x": {"field": "t", "type": "quantitative"},
           "y": {"field": "v", "type": "quantitative", "scale": {"domain": [16.66, 26.12], "nice": false, "zero": false},
                 "axis": {"values": [18,20,22,24,26], "title": "FEA Temp"}},
           "color": {"field": "s", "type": "nominal",
             "scale": {"domain": ["2FHTRMZT","2FRADPYT","2FEPRATM","2FE00ATM"], "range": ["#1f77b4","#ff7f0e","#2ca02c","#d62728"]},
             "legend": {"title": null, "legendX": 15, "legendY": 15}}}}
      ]
    }
  ],
  "spacing": 34,
  "resolve": {
    "scale": {"x": "independent", "y": "independent", "color": "independent", "stroke": "independent", "strokeWidth": "independent"},
    "legend": {"color": "independent", "stroke": "independent", "strokeWidth": "independent"}
  }
}
